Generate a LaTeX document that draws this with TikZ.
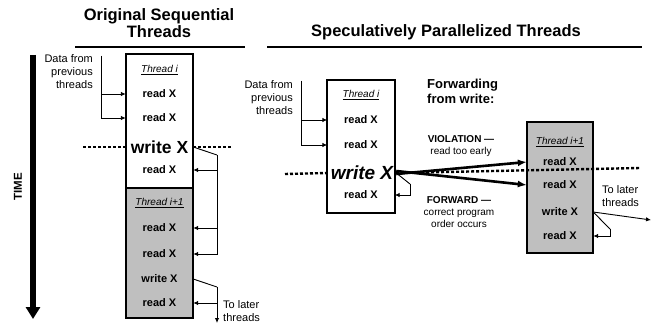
\documentclass[tikz,border=0pt]{standalone}
\usepackage{fontspec}
\setmainfont{Liberation Sans}
\usetikzlibrary{arrows.meta}

\begin{document}
\begin{tikzpicture}[x=1pt, y=-1pt,
  title/.style = {font=\fontsize{16.5}{17}\selectfont\bfseries, align=center, inner sep=0pt},
  frame/.style = {draw, line width=1.1pt, inner sep=0pt},
  row/.style = {minimum width=67pt, minimum height=10pt, inner sep=0pt, font=\fontsize{11}{11}\selectfont\bfseries},
  bigrow/.style = {row, font=\fontsize{17.5}{18}\selectfont\bfseries},
  tname/.style = {row, font=\fontsize{10}{11}\selectfont\itshape},
  note/.style = {font=\fontsize{11}{13}\selectfont, inner sep=0pt},
  lbl/.style = {font=\fontsize{10}{12}\selectfont, align=center, inner sep=0pt},
  link/.style = {line width=0.9pt},
  arr/.style = {link, -{Latex[length=5pt, width=4.5pt]}},
  fwd/.style = {line width=2.6pt, -{Latex[length=9pt, width=7pt]}},
  sep/.style = {line width=2.4pt, dash pattern=on 3pt off 2pt}
]
\useasboundingbox (0,0) rectangle (653,326);

% titles
\node[title] (ttlA) at (159,23) {Original Sequential\\Threads};
\node[title] (ttlB) at (446,32) {Speculatively Parallelized Threads};
\draw[line width=2pt] (75,47) -- (245,47);
\draw[line width=2pt] (267,47) -- (642,47);

% time axis
\coordinate (t0) at (33,55);
\coordinate (t1) at (33,319);
\draw[line width=5.5pt, -{Triangle[length=12pt, width=14pt]}] (t0) -- (t1);
\node[rotate=90, font=\fontsize{11.5}{12}\selectfont\bfseries, inner sep=0pt] (time) at (18,187) {TIME};

% original sequential threads
\node[frame, minimum width=67pt, minimum height=134pt] (boxA) at (159.5,121) {};
\node[frame, fill=black!25, minimum width=67pt, minimum height=130pt] (boxB) at (159.5,253) {};

\node[tname] (tA) at (159.5,70) {\underline{Thread i}};
\node[row] (rA1) at (159.5,94) {read X};
\node[row] (rA2) at (159.5,118) {read X};
\node[bigrow] (wA) at (159.5,147) {write X};
\node[row] (rA3) at (159.5,170) {read X};
\node[tname] (tB) at (159.5,203) {\underline{Thread i+1}};
\node[row] (rB1) at (159.5,228) {read X};
\node[row] (rB2) at (159.5,254) {read X};
\node[row] (wB) at (159.5,279) {write X};
\node[row] (rB3) at (159.5,303) {read X};

\node[note, align=right, anchor=north east] (dataA) at (93,54) {Data from\\previous\\threads};
\coordinate (dA) at (101,56);
\draw[arr] (dA) |- (rA1.west);
\draw[arr] (dA) |- (rA2.west);

\draw[sep] (83,147) -- (wA.west);
\draw[sep] (wA.east) -- (233,147);

\coordinate (fA) at (217,155);
\draw[link] (wA.east) -- (fA);
\draw[arr] (fA) |- (rA3.east);
\draw[arr] (fA) |- (rB1.east);
\draw[arr] (fA) |- (rB2.east);

\coordinate (fB) at (217,287);
\coordinate (outA) at (217,323);
\draw[link] (wB.east) -- (fB);
\draw[arr] (fB) |- (rB3.east);
\draw[arr] (fB) -- (outA);
\node[note, align=left, anchor=north west] (laterA) at (223,300) {To later\\threads};

% speculatively parallelized threads
\node[frame, minimum width=68pt, minimum height=133pt] (boxC) at (361,146.5) {};
\node[frame, fill=black!25, minimum width=66pt, minimum height=131pt] (boxD) at (560,187.5) {};

\node[tname] (tC) at (361,95) {\underline{Thread i}};
\node[row] (rC1) at (361,120) {read X};
\node[row] (rC2) at (361,145) {read X};
\node[bigrow, font=\fontsize{19}{20}\selectfont\bfseries\itshape, minimum width=68pt] (wC) at (362,173) {write X};
\node[row] (rC3) at (361,195) {read X};

\node[tname, minimum width=66pt] (tD) at (560,142) {\underline{Thread i+1}};
\node[row, minimum width=66pt] (rD1) at (560,162) {read X};
\node[row, minimum width=66pt] (rD2) at (560,185) {read X};
\node[row, minimum width=66pt] (wD) at (560,212) {write X};
\node[row, minimum width=66pt] (rD3) at (560,236) {read X};

\node[note, align=right, anchor=north east] (dataC) at (293,80) {Data from\\previous\\threads};
\coordinate (dC) at (301,81);
\draw[arr] (dC) |- (rC1.west);
\draw[arr] (dC) |- (rC2.west);

\draw[sep] (285,174) -- (wC.west);
\draw[sep] (wC.east) -- (640,168);

\draw[fwd] ([yshift=-1pt]wC.east) -- (rD1.west);
\draw[fwd] ([yshift=2pt]wC.east) -- (rD2.west);

\coordinate (fC) at (410,184);
\draw[link] (wC.east) -- (fC);
\draw[arr] (fC) |- (rC3.east);

\coordinate (fD) at (610,229);
\coordinate (outD) at (651,220);
\draw[link] (wD.east) -- (fD);
\draw[arr] (fD) |- (rD3.east);
\draw[arr] (wD.east) -- (outD);

\node[font=\fontsize{13}{15}\selectfont\bfseries, align=left, anchor=west, inner sep=0pt] (fwdttl) at (427,91) {Forwarding\\from write:};
\node[lbl] (viol) at (461,146) {\textbf{VIOLATION —}\\read too early};
\node[lbl] (okfwd) at (459,212) {\textbf{FORWARD —}\\correct program\\order occurs};
\node[note, align=left, anchor=north west] (laterD) at (602,185) {To later\\threads};

\end{tikzpicture}
\end{document}
